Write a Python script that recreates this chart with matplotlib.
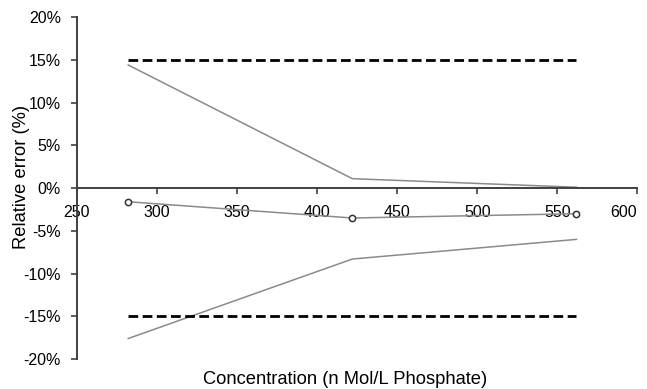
import matplotlib
matplotlib.use("Agg")
import matplotlib.pyplot as plt
from matplotlib.ticker import FuncFormatter, MultipleLocator

# concentration levels (n Mol/L phosphate)
conc = [282, 422, 562]
# relative error (%): upper / lower bound and mean
upper = [14.4, 1.1, 0.1]
lower = [-17.6, -8.3, -6.0]
mean = [-1.6, -3.5, -3.0]
# acceptance limits
limit_hi = [15, 15, 15]
limit_lo = [-15, -15, -15]

plt.rcParams["font.family"] = ["Liberation Sans", "DejaVu Sans"]
plt.rcParams["axes.unicode_minus"] = False

fig = plt.figure(figsize=(6.47, 3.89), dpi=100)
ax = fig.add_axes([0.119, 0.077, 0.866, 0.879])

axis_col = "#404040"
ax.plot(conc, upper, color="#8a8a8a", linewidth=1.1)
ax.plot(conc, lower, color="#8a8a8a", linewidth=1.1)
ax.plot(conc, mean, color="#8a8a8a", linewidth=1.1, marker="o", markersize=4.5,
        markerfacecolor="white", markeredgecolor="#333333", markeredgewidth=1.1)
ax.plot(conc, limit_hi, color="black", linewidth=2, dashes=(3.5, 1.6))
ax.plot(conc, limit_lo, color="black", linewidth=2, dashes=(3.5, 1.6))

ax.set_xlim(250, 600)
ax.set_ylim(-20, 20)
ax.xaxis.set_major_locator(MultipleLocator(50))
ax.yaxis.set_major_locator(MultipleLocator(5))
ax.yaxis.set_major_formatter(FuncFormatter(lambda v, p: f"{v:.0f}%"))

for side in ["top", "right"]:
    ax.spines[side].set_visible(False)
ax.spines["bottom"].set_position(("data", 0))
for side in ["left", "bottom"]:
    ax.spines[side].set_color(axis_col)
    ax.spines[side].set_linewidth(1.4)

ax.tick_params(axis="both", direction="out", length=4.5, width=1.2,
               color=axis_col, labelsize=11.5, labelcolor="black")
ax.tick_params(axis="x", pad=8)
ax.tick_params(axis="y", pad=7)

# keep the last x label inside the figure
xticks = list(range(250, 601, 50))
ax.set_xticks(xticks)
ax.set_xticklabels([str(t) for t in xticks])
ax.get_xticklabels()[-1].set_horizontalalignment("right")

fig.text(22 / 647, 1 - 177 / 389, "Relative error (%)", fontsize=13.2,
         rotation=90, ha="center", va="center")
fig.text(345 / 647, 1 - 379 / 389, "Concentration (n Mol/L Phosphate)", fontsize=13.2,
         ha="center", va="center")

fig.savefig("out.png", dpi=100)
